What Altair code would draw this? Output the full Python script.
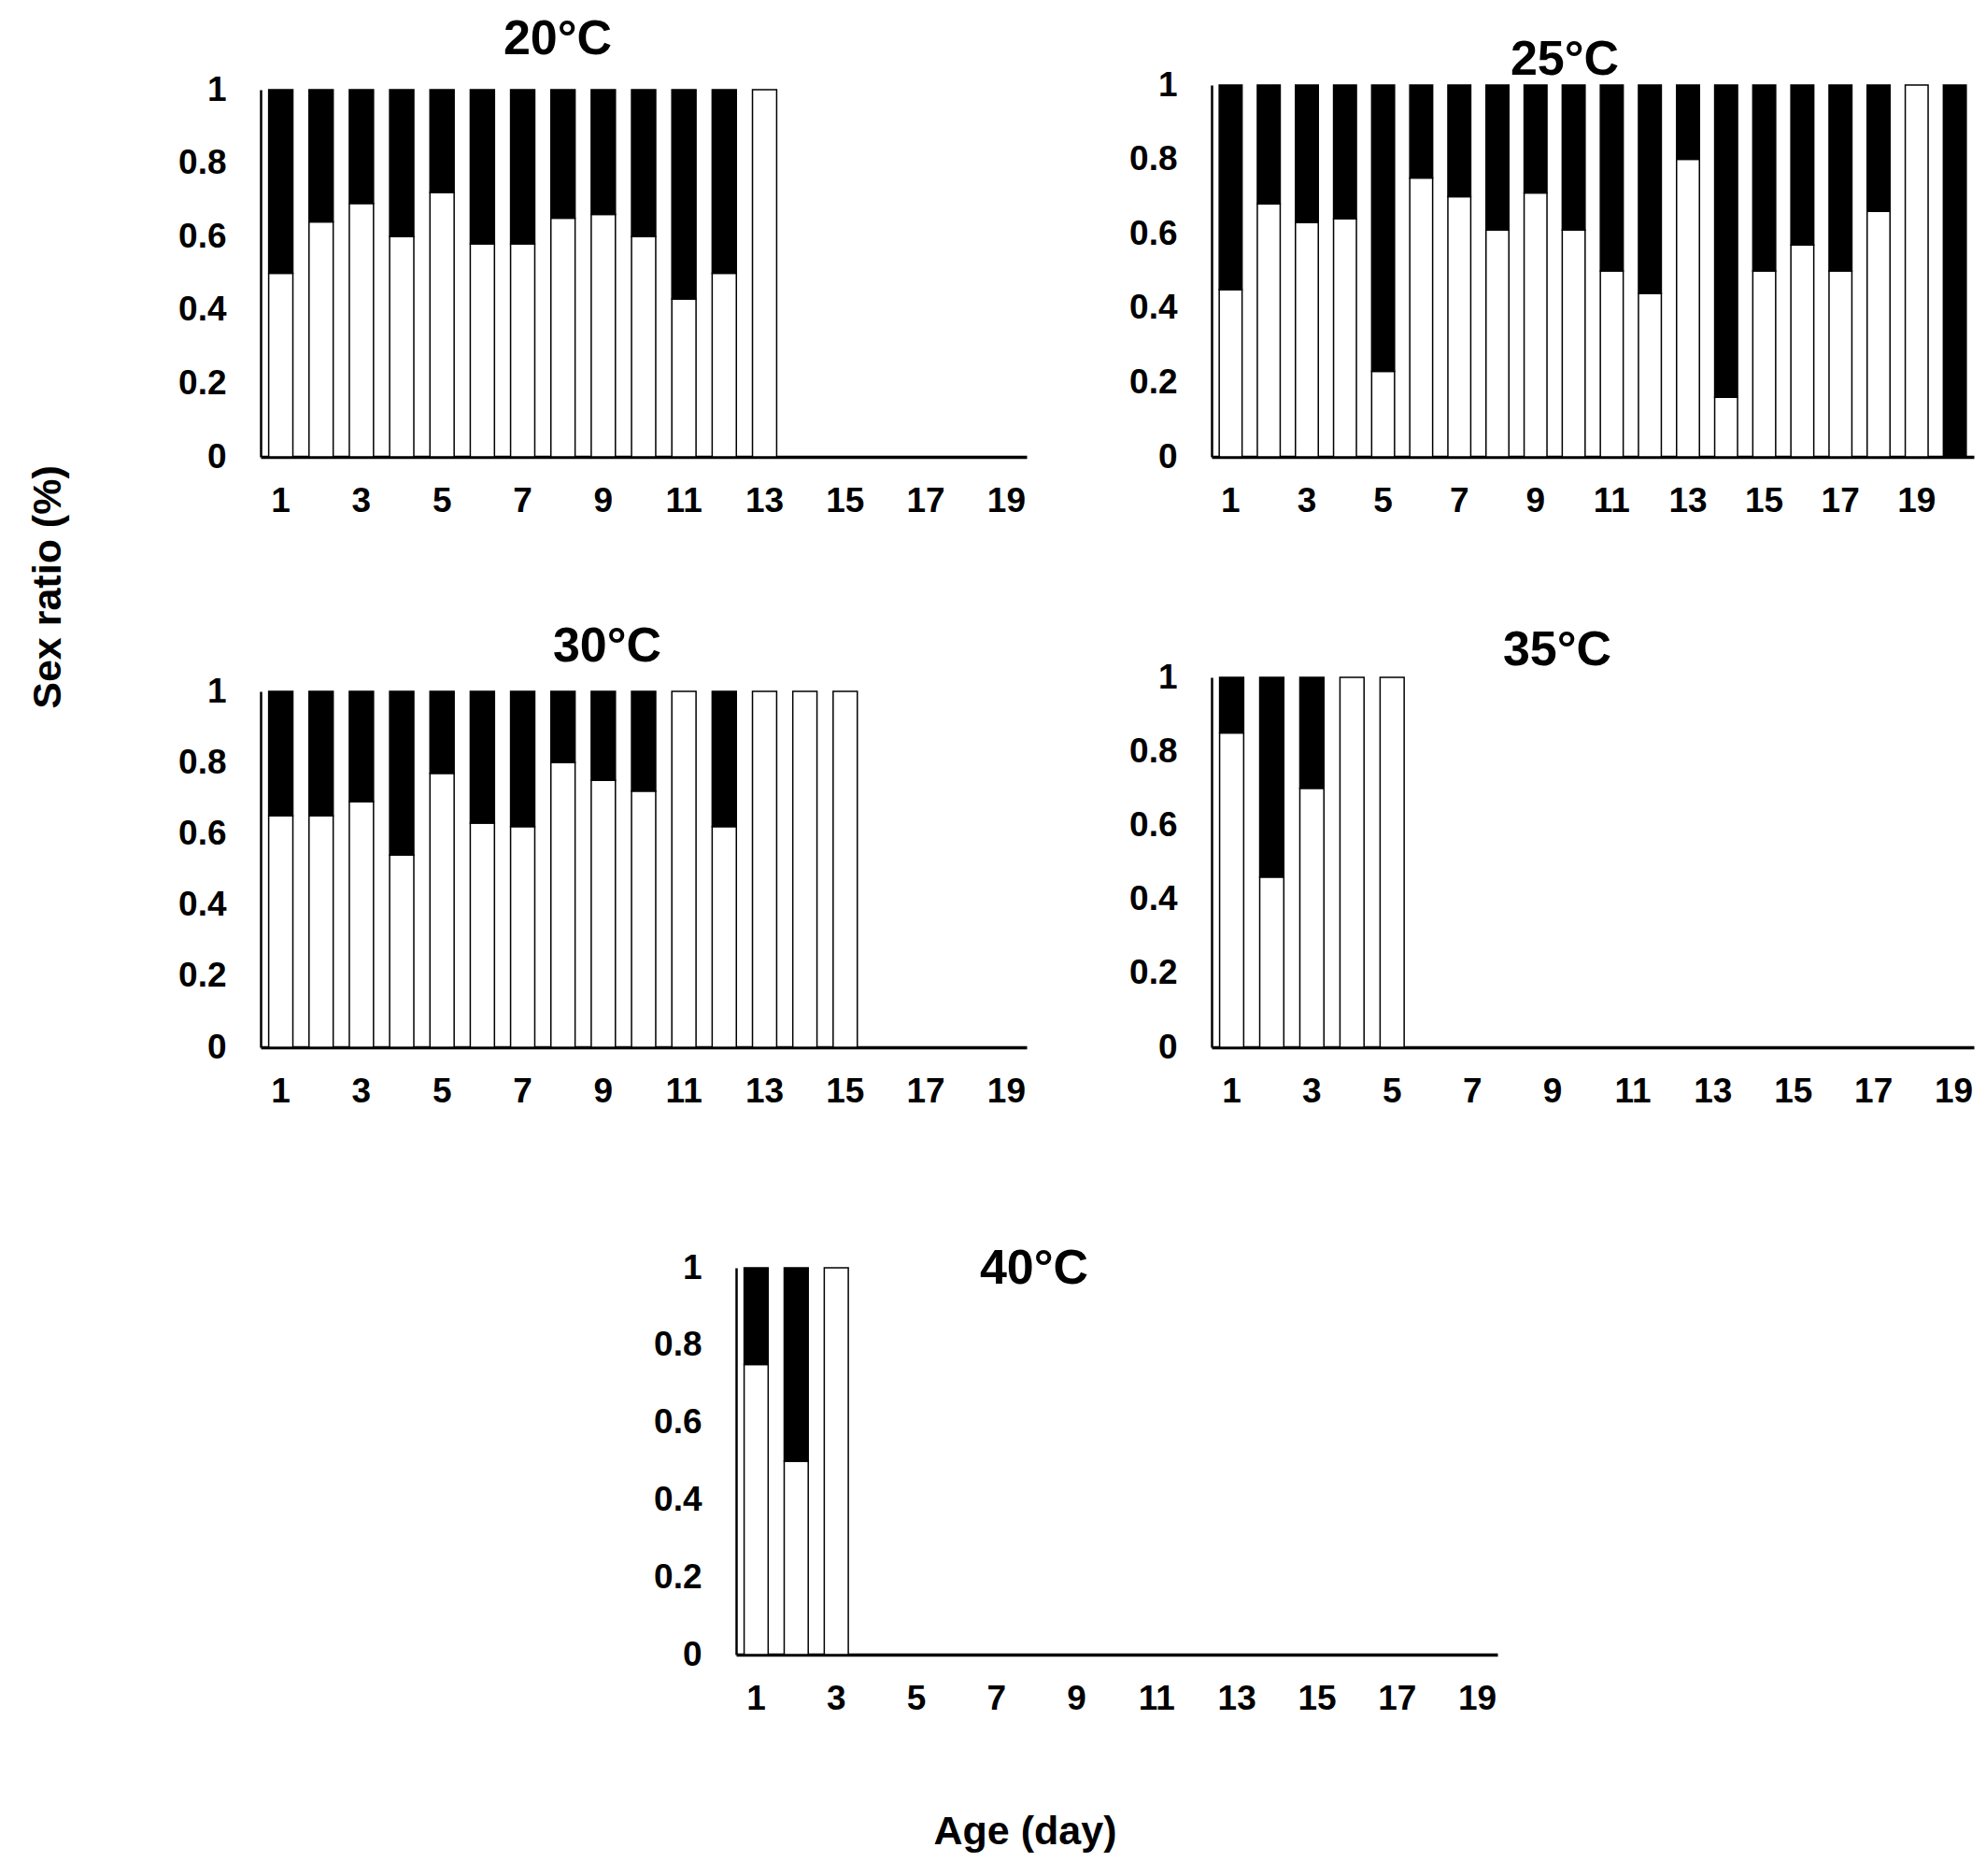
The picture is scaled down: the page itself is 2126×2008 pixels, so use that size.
import altair as alt
import pandas as pd

FONT = "Liberation Sans"

# Ages (days) on each panel's axis
days_19 = list(range(1, 20))
days_20 = list(range(1, 21))
tick_days = [1, 3, 5, 7, 9, 11, 13, 15, 17, 19]
y_ticks = [0, 0.2, 0.4, 0.6, 0.8, 1]

# Lower (white) share of each bar; the rest up to 1 is black
lower_20 = [0.50, 0.64, 0.69, 0.60, 0.72, 0.58, 0.58, 0.65, 0.66, 0.60, 0.43, 0.50, 1.00]
lower_25 = [0.45, 0.68, 0.63, 0.64, 0.23, 0.75, 0.70, 0.61, 0.71, 0.61,
            0.50, 0.44, 0.80, 0.16, 0.50, 0.57, 0.50, 0.66, 1.00, 0.00]
lower_30 = [0.65, 0.65, 0.69, 0.54, 0.77, 0.63, 0.62, 0.80, 0.75, 0.72,
            1.00, 0.62, 1.00, 1.00, 1.00]
lower_35 = [0.85, 0.46, 0.70, 1.00, 1.00]
lower_40 = [0.75, 0.50, 1.00]

titles = ["20°C", "25°C", "30°C", "35°C", "40°C"]


def to_frame(lower):
    rows = []
    for i, v in enumerate(lower):
        d = i + 1
        if v > 0:
            rows.append({"day": d, "y0": 0.0, "y1": v, "part": "lower"})
        if v < 1:
            rows.append({"day": d, "y0": v, "y1": 1.0, "part": "upper"})
    return pd.DataFrame(rows)


def panel(title, domain_days, lower, width, row_h, plot_h, tdx, tdy,
          ytitle_pos=None, xtitle_pos=None, x_start=0, x_len=None):
    df = to_frame(lower)
    x_len = width if x_len is None else x_len
    xaxis_kw = dict(values=tick_days, labelAngle=0, domainWidth=3.5)
    if xtitle_pos is not None:
        xaxis_kw.update(title="Age (day)", titleX=xtitle_pos[0], titleY=xtitle_pos[1],
                        titleBaseline="middle", titleAlign="center", titleAngle=0)
    else:
        xaxis_kw.update(title=None)
    yaxis_kw = dict(values=y_ticks, format="~g", domainWidth=2.5)
    if x_start:
        yaxis_kw.update(offset=-x_start)
    if ytitle_pos is not None:
        yaxis_kw.update(title="Sex ratio (%)", titleX=ytitle_pos[0], titleY=ytitle_pos[1],
                        titleBaseline="middle", titleAlign="center", titleAngle=270)
    else:
        yaxis_kw.update(title=None)

    return alt.Chart(df).mark_bar(stroke="black", strokeWidth=1.5).encode(
        x=alt.X("day:O",
                scale=alt.Scale(domain=domain_days, paddingInner=0.4, paddingOuter=0.2,
                                range=[x_start, x_start + x_len]),
                axis=alt.Axis(**xaxis_kw)),
        y=alt.Y("y0:Q",
                scale=alt.Scale(domain=[0, 1], range=[row_h, row_h - plot_h], nice=False),
                axis=alt.Axis(**yaxis_kw)),
        y2="y1:Q",
        fill=alt.Fill("part:N", scale=alt.Scale(domain=["lower", "upper"],
                                                range=["white", "black"]), legend=None),
    ).properties(
        width=width, height=row_h,
        title=alt.TitleParams(text=title, fontSize=52, font=FONT, fontWeight="bold",
                              color="black", anchor="middle", frame="group",
                              offset=0, dx=tdx, dy=tdy),
    )


p20 = panel(titles[0], days_19, lower_20, 820, 398, 393, -92, -8, ytitle_pos=(-228, 537))
p25 = panel(titles[1], days_20, lower_25, 816, 398, 398, -30, 19)
p30 = panel(titles[2], days_19, lower_30, 820, 396, 381, -39, -2)
p35 = panel(titles[3], days_19, lower_35, 816, 396, 396, -38, 17)
p40 = panel(titles[4], days_19, lower_40, 820, 414, 414, 418, 47,
            xtitle_pos=(818, 189), x_start=509, x_len=815)

chart = alt.concat(
    p20, p25, p30, p35, p40, columns=2,
    spacing={"row": 236, "column": 198}, bounds="flush", align="each",
).properties(
    padding={"left": 22, "top": 8, "right": 5, "bottom": 5}
).configure_view(strokeWidth=0).configure_axis(
    labelFont=FONT, labelFontSize=37, labelFontWeight="bold", labelColor="black",
    titleFont=FONT, titleFontSize=43, titleFontWeight="bold", titleColor="black",
    domainColor="black", ticks=False, tickSize=0, grid=False,
).configure_axisX(labelPadding=29).configure_axisY(labelPadding=37)

chart.save("out.html", embed_options={"renderer": "svg", "actions": False})
